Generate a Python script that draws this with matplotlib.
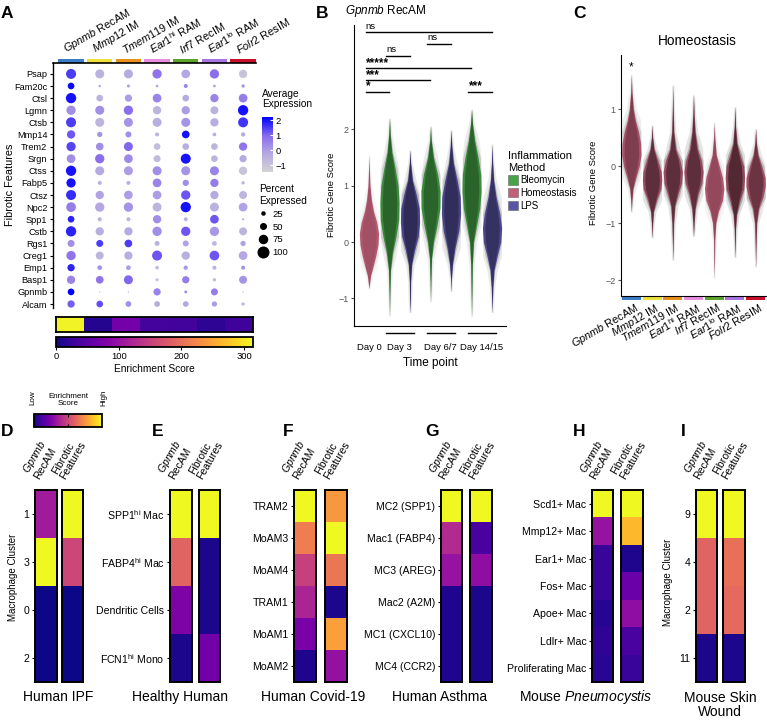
import numpy as np
import matplotlib
matplotlib.use("Agg")
import matplotlib.pyplot as plt
from matplotlib.colors import LinearSegmentedColormap
from matplotlib.patches import Rectangle, Patch
from matplotlib.lines import Line2D
import matplotlib.transforms as mtransforms
import matplotlib.cm as cm

plt.rcParams['font.family'] = ['Liberation Sans', 'DejaVu Sans']
plt.rcParams['mathtext.fontset'] = 'custom'
plt.rcParams['mathtext.rm'] = 'Liberation Sans'
plt.rcParams['mathtext.it'] = 'Liberation Sans:italic'
plt.rcParams['mathtext.bf'] = 'Liberation Sans:bold'
plt.rcParams['axes.unicode_minus'] = True

# ---------------- data ----------------
CLUSTERS = [r"$\mathit{Gpnmb}$ RecAM", r"$\mathit{Mmp12}$ IM", r"$\mathit{Tmem119}$ IM",
            r"$\mathit{Ear1}^{\mathrm{hi}}$ RAM", r"$\mathit{Irf7}$ RecIM",
            r"$\mathit{Ear1}^{\mathrm{lo}}$ RAM", r"$\mathit{Folr2}$ ResIM"]
CLUSTER_COLORS = ["#3d7cc9", "#eee03a", "#e8901a", "#e88ee0", "#5aa52a", "#a875e0", "#c8102a"]

GENES = ["Psap", "Fam20c", "Ctsl", "Lgmn", "Ctsb", "Mmp14", "Trem2", "Srgn", "Ctss", "Fabp5",
         "Ctsz", "Npc2", "Spp1", "Cstb", "Rgs1", "Creg1", "Emp1", "Basp1", "Gpnmb", "Alcam"]

PCT_EXPRESSED = np.array([
    [94, 84, 84, 87, 81, 87, 77],
    [61, 17, 24, 21, 34, 21, 27],
    [97, 61, 67, 81, 61, 77, 81],
    [87, 84, 87, 77, 77, 74, 97],
    [94, 84, 84, 84, 84, 77, 94],
    [77, 47, 54, 34, 71, 31, 37],
    [87, 71, 84, 61, 61, 61, 77],
    [81, 87, 81, 64, 94, 61, 67],
    [97, 84, 84, 84, 84, 84, 77],
    [87, 34, 34, 81, 57, 77, 27],
    [94, 77, 81, 81, 87, 77, 74],
    [91, 87, 87, 84, 97, 84, 81],
    [61, 34, 34, 77, 34, 81, 17],
    [97, 77, 77, 87, 87, 87, 74],
    [64, 64, 71, 44, 54, 41, 47],
    [87, 74, 77, 94, 77, 91, 81],
    [67, 41, 41, 31, 37, 34, 34],
    [77, 71, 84, 24, 67, 27, 74],
    [61, 7, 7, 67, 24, 64, 7],
    [67, 61, 51, 51, 51, 47, 27],
])
AVG_EXPRESSION = np.array([
    [1.5, -0.5, -0.3, 0.8, -0.2, 0.9, -1.0],
    [2.1, 0.0, 0.0, -0.2, 0.5, 0.0, 0.2],
    [2.0, -0.5, 0.0, 0.5, -0.3, 0.5, 0.6],
    [0.3, 0.3, 0.9, -0.6, 0.0, -0.5, 2.0],
    [1.5, -0.6, 0.2, -0.4, 0.2, -0.4, 1.6],
    [1.2, 0.2, 0.3, -0.5, 2.0, -0.4, -0.3],
    [1.4, 0.3, 1.0, -0.8, -0.4, -0.6, 0.8],
    [0.3, 0.9, 0.4, -0.7, 2.0, -0.6, -0.3],
    [2.0, -0.3, 0.0, 0.3, 0.2, 0.5, -1.0],
    [2.0, -0.5, -0.4, 0.5, 0.3, 0.6, -0.5],
    [1.7, -0.1, 0.0, 0.0, 1.2, -0.3, -0.6],
    [0.6, -0.2, 0.2, -0.6, 2.0, -0.5, -0.1],
    [1.8, -0.5, -0.5, 0.3, -0.5, 1.2, -0.6],
    [1.8, -0.4, -0.3, 0.3, 1.2, 0.1, -0.6],
    [0.3, 1.5, 1.5, -0.5, -0.1, -0.6, -0.1],
    [0.8, -0.6, -0.4, 1.2, -0.4, 1.2, -0.2],
    [1.8, 0.2, 0.0, -0.8, 0.1, -0.5, 0.2],
    [0.5, 0.8, 1.0, -0.8, 0.6, -0.7, 0.2],
    [2.2, -0.5, -0.3, 0.5, 0.3, 0.6, -0.6],
    [1.1, 1.3, 0.3, -0.3, -0.2, 0.0, -0.6],
])
ENRICHMENT = [310, 12, 70, 35, 32, 18, 30]
SIZE_LEGEND = [25, 50, 75, 100]

# panel B: violin profiles (score level, half width) per group
B_GROUPS = ["Homeostasis", "Bleomycin", "LPS", "Bleomycin", "LPS", "Bleomycin", "LPS"]
B_DOT_DENSITY = [0.2, 0.5, 0.65, 0.5, 0.6, 0.5, 0.55]
B_PROFILE_Y = [
    [1.54, 1.3, 1.0, 0.75, 0.55, 0.35, 0.15, -0.05, -0.25, -0.45, -0.6, -0.83],
    [2.2, 1.9, 1.6, 1.3, 1.0, 0.7, 0.4, 0.1, -0.2, -0.5, -0.9, -1.31],
    [1.63, 1.4, 1.1, 0.85, 0.6, 0.35, 0.1, -0.15, -0.4, -0.7, -1.0, -1.25],
    [2.06, 1.8, 1.5, 1.2, 0.9, 0.6, 0.3, 0.0, -0.3, -0.7, -1.06],
    [1.99, 1.7, 1.4, 1.1, 0.8, 0.5, 0.2, -0.1, -0.4, -0.65, -0.88],
    [2.36, 2.1, 1.8, 1.5, 1.2, 0.9, 0.6, 0.3, 0.0, -0.4, -0.9, -1.32],
    [1.74, 1.4, 1.1, 0.8, 0.5, 0.25, 0.0, -0.25, -0.5, -0.8, -1.25],
]
B_PROFILE_W = [
    [0, 0.02, 0.05, 0.12, 0.22, 0.38, 0.47, 0.44, 0.33, 0.19, 0.08, 0],
    [0, 0.04, 0.12, 0.28, 0.42, 0.47, 0.45, 0.32, 0.15, 0.05, 0.02, 0],
    [0, 0.03, 0.12, 0.3, 0.45, 0.47, 0.4, 0.22, 0.08, 0.03, 0.02, 0],
    [0, 0.04, 0.15, 0.35, 0.47, 0.46, 0.32, 0.15, 0.05, 0.02, 0],
    [0, 0.04, 0.12, 0.3, 0.45, 0.47, 0.38, 0.2, 0.07, 0.02, 0],
    [0, 0.05, 0.16, 0.32, 0.45, 0.47, 0.4, 0.25, 0.1, 0.04, 0.02, 0],
    [0, 0.03, 0.08, 0.2, 0.38, 0.47, 0.42, 0.25, 0.1, 0.04, 0],
]
B_TIMEPOINTS = ["Day 0", "Day 3", "Day 6/7", "Day 14/15"]
B_COMPARISONS = [(0, 6, "ns"), (3, 4, "ns"), (1, 2, "ns"), (0, 5, "*****"),
                 (0, 3, "***"), (0, 1, "*"), (5, 6, "***")]
B_LEVELS = [0, 1, 2, 3, 4, 5, 5]
METHOD_COLORS = {"Bleomycin": "#47a447", "Homeostasis": "#c2607a", "LPS": "#5b55a8"}

# panel C: homeostasis violins per cluster
C_DOT_DENSITY = [0.45, 0.7, 0.7, 0.7, 0.3, 0.8, 0.6]
C_PROFILE_Y = [
    [1.61, 1.3, 1.0, 0.8, 0.6, 0.4, 0.2, 0.0, -0.2, -0.4, -0.6, -0.81],
    [0.72, 0.5, 0.3, 0.1, -0.1, -0.25, -0.4, -0.6, -0.8, -1.0, -1.26],
    [1.42, 1.0, 0.6, 0.3, 0.1, -0.1, -0.3, -0.5, -0.7, -1.0, -1.3, -1.65],
    [1.25, 0.9, 0.6, 0.3, 0.1, -0.1, -0.3, -0.5, -0.75, -1.0, -1.23],
    [0.77, 0.5, 0.2, 0.0, -0.2, -0.4, -0.6, -0.8, -1.0, -1.3, -1.6, -1.97],
    [1.04, 0.7, 0.4, 0.2, 0.0, -0.2, -0.4, -0.6, -0.85, -1.1, -1.6],
    [0.66, 0.4, 0.2, 0.0, -0.2, -0.35, -0.55, -0.75, -1.0, -1.4, -1.77],
]
C_PROFILE_W = [
    [0, 0.03, 0.1, 0.2, 0.35, 0.45, 0.47, 0.38, 0.22, 0.08, 0.03, 0],
    [0, 0.03, 0.1, 0.28, 0.44, 0.47, 0.42, 0.22, 0.07, 0.03, 0],
    [0, 0.02, 0.05, 0.15, 0.35, 0.47, 0.42, 0.25, 0.1, 0.04, 0.02, 0],
    [0, 0.03, 0.08, 0.2, 0.38, 0.47, 0.4, 0.22, 0.08, 0.03, 0],
    [0, 0.03, 0.1, 0.25, 0.4, 0.47, 0.4, 0.2, 0.08, 0.03, 0.02, 0],
    [0, 0.03, 0.1, 0.25, 0.42, 0.47, 0.42, 0.25, 0.08, 0.03, 0],
    [0, 0.04, 0.12, 0.3, 0.46, 0.47, 0.35, 0.15, 0.05, 0.02, 0],
]
C_SIGNIF = ["*", "", "", "", "", "", ""]

# panels D-I: scaled enrichment (0-1)
IPF_CLUSTERS = ["1", "3", "0", "2"]
IPF_GPNMB = [0.35, 1.0, 0.0, 0.0]
IPF_FIBROTIC = [1.0, 0.5, 0.0, 0.0]
HEALTHY_CLUSTERS = [r"SPP1$^{\mathrm{hi}}$ Mac", r"FABP4$^{\mathrm{hi}}$ Mac", "Dendritic Cells",
                    r"FCN1$^{\mathrm{hi}}$ Mono"]
HEALTHY_GPNMB = [1.0, 0.6, 0.25, 0.02]
HEALTHY_FIBROTIC = [1.0, 0.02, 0.02, 0.22]
COVID_CLUSTERS = ["TRAM2", "MoAM3", "MoAM4", "TRAM1", "MoAM1", "MoAM2"]
COVID_GPNMB = [1.0, 0.68, 0.48, 0.38, 0.24, 0.03]
COVID_FIBROTIC = [0.76, 1.0, 0.66, 0.02, 0.78, 0.31]
ASTHMA_CLUSTERS = ["MC2 (SPP1)", "Mac1 (FABP4)", "MC3 (AREG)", "Mac2 (A2M)", "MC1 (CXCL10)",
                   "MC4 (CCR2)"]
ASTHMA_GPNMB = [1.0, 0.4, 0.32, 0.03, 0.03, 0.03]
ASTHMA_FIBROTIC = [1.0, 0.12, 0.3, 0.02, 0.02, 0.02]
PNEUMO_CLUSTERS = ["Scd1+ Mac", "Mmp12+ Mac", "Ear1+ Mac", "Fos+ Mac", "Apoe+ Mac", "Ldlr+ Mac",
                   "Proliferating Mac"]
PNEUMO_GPNMB = [1.0, 0.32, 0.08, 0.08, 0.04, 0.06, 0.05]
PNEUMO_FIBROTIC = [1.0, 0.85, 0.03, 0.2, 0.3, 0.12, 0.08]
WOUND_CLUSTERS = ["9", "4", "2", "11"]
WOUND_GPNMB = [1.0, 0.6, 0.6, 0.02]
WOUND_FIBROTIC = [1.0, 0.64, 0.62, 0.02]

# ---------------- layout helpers ----------------
W, H = 767, 722
fig = plt.figure(figsize=(W / 100, H / 100), dpi=100)


def px_axes(x0, y0, x1, y1):
    return fig.add_axes([x0 / W, 1 - y1 / H, (x1 - x0) / W, (y1 - y0) / H])


def px_text(x, y, s, **kw):
    return fig.text(x / W, 1 - y / H, s, **kw)


def draw_violin(ax, pos, yv, hw, color, dens):
    # violin body with the jittered cells suggested by darker layers on top
    yv = np.asarray(yv, float)
    hw = np.asarray(hw, float)
    halo = np.minimum(0.46, hw * 2.0 + 0.05)
    ax.fill_betweenx(yv, pos - halo, pos + halo, color="0.5", alpha=0.3 * dens, lw=0)
    ax.fill_betweenx(yv, pos - hw, pos + hw, color=color, lw=0)
    fringe = np.minimum(0.46, hw * 1.35)
    ax.fill_betweenx(yv, pos - fringe, pos + fringe, color="black", alpha=0.3 * dens, lw=0)
    core = hw * 0.75
    ax.fill_betweenx(yv, pos - core, pos + core, color="black", alpha=0.55 * dens, lw=0)


for letter, (x, y) in zip("ABCDEFGHI", [(7, 13), (322, 13), (580, 13), (7, 432), (158, 432),
                                        (288, 432), (432, 432), (579, 432), (683, 432)]):
    px_text(x, y, letter, fontsize=12.5, fontweight="bold", ha="center", va="center")

# ---------------- panel A ----------------
dot_cmap = LinearSegmentedColormap.from_list(
    "dot", [(0, "#d3d3d3"), (0.35, "#b3a6e3"), (0.65, "#8a6ded"), (1, "#0000ff")])
axa = px_axes(53, 63, 256, 308)
gx, gy = np.meshgrid(np.arange(len(CLUSTERS)), np.arange(len(GENES)))
diam = (0.6 + 0.1 * PCT_EXPRESSED) * 0.72
sc = axa.scatter(gx.ravel(), gy.ravel(), s=diam.ravel() ** 2, c=AVG_EXPRESSION.ravel(),
                 cmap=dot_cmap, vmin=-1.45, vmax=2.2, edgecolors="none")
axa.set_xlim(-0.63, 6.45)
axa.set_ylim(19.33, -0.9)
axa.set_yticks(range(len(GENES)))
axa.set_yticklabels(GENES, fontsize=6.6)
axa.set_xticks([])
axa.tick_params(axis="y", length=2.5, pad=1.5)
for side in ["right", "bottom"]:
    axa.spines[side].set_visible(False)
axa.spines["left"].set_linewidth(1.0)
axa.spines["top"].set_linewidth(1.2)
trans = mtransforms.blended_transform_factory(axa.transData, axa.transAxes)
for i, (lab, col) in enumerate(zip(CLUSTERS, CLUSTER_COLORS)):
    axa.add_patch(Rectangle((i - 0.44, 1.0), 0.88, 4 / 245, transform=trans, color=col,
                            clip_on=False, lw=0))
    axa.text(i - 0.1, 1 + 7 / 245, lab, transform=trans, rotation=30, ha="left", va="bottom",
             rotation_mode="anchor", fontsize=7.8)
px_text(10, 185, "Fibrotic Features", rotation=90, ha="center", va="center", fontsize=7.8)

px_text(262, 99, "Average\nExpression", fontsize=7.3, ha="left", va="center", linespacing=1.1)
cax = px_axes(262, 117, 273, 172)
cb = fig.colorbar(sc, cax=cax, ticks=[-1, 0, 1, 2])
cb.outline.set_visible(False)
cax.tick_params(labelsize=6.8, length=2.5, color="white", direction="in", pad=2)

size_handles = [Line2D([], [], marker="o", ls="", color="black",
                       markersize=(0.6 + 0.1 * p) * 0.72) for p in SIZE_LEGEND]
leg = axa.legend(size_handles, [str(p) for p in SIZE_LEGEND], title="Percent\nExpressed",
                 loc="upper left", bbox_to_anchor=(259 / W, 1 - 184 / H),
                 bbox_transform=fig.transFigure, frameon=False, fontsize=6.8,
                 title_fontsize=7.3, alignment="left", handlelength=0.9, handletextpad=0.5,
                 labelspacing=0.42, borderpad=0, borderaxespad=0)

axe = px_axes(56, 317, 253, 332)
im = axe.imshow(np.array(ENRICHMENT)[None, :], cmap="plasma", vmin=0, vmax=314, aspect="auto")
axe.set_xticks([])
axe.set_yticks([])
for s in axe.spines.values():
    s.set_linewidth(1.3)
cax2 = px_axes(56, 337, 253, 347)
cb2 = fig.colorbar(im, cax=cax2, orientation="horizontal", ticks=[0, 100, 200, 300])
cb2.outline.set_linewidth(1.3)
cax2.tick_params(labelsize=6.8, length=2, pad=1.5)
cax2.set_xlabel("Enrichment Score", fontsize=7.3, labelpad=2)

# ---------------- panel B ----------------
axb = px_axes(354, 25, 506, 326)
for i, (yv, hw, grp) in enumerate(zip(B_PROFILE_Y, B_PROFILE_W, B_GROUPS)):
    draw_violin(axb, i, yv, hw, METHOD_COLORS[grp], B_DOT_DENSITY[i])
axb.set_xlim(-0.73, 6.68)
axb.set_ylim(-1.49, 3.85)
axb.set_yticks([-1, 0, 1, 2])
axb.tick_params(axis="y", labelsize=6.5, labelcolor="#555555", length=2, color="#555555", pad=2)
tick_pos = [0, 1.5, 3.5, 5.5]
axb.set_xticks(tick_pos)
axb.set_xticklabels(B_TIMEPOINTS, fontsize=6.8)
axb.tick_params(axis="x", length=0, pad=12)
for side in ["right", "top"]:
    axb.spines[side].set_visible(False)
tb = mtransforms.blended_transform_factory(axb.transData, axb.transAxes)
for c in tick_pos[1:]:
    axb.plot([c - 0.68, c + 0.68], [-0.022, -0.022], transform=tb, color="black", lw=1,
             clip_on=False)
for (a, b, lab), lev in zip(B_COMPARISONS, B_LEVELS):
    yl = 3.72 - 0.21 * lev
    axb.plot([a - 0.15, b - 0.02], [yl, yl], color="black", lw=1)
    if "*" in lab:
        axb.text(a - 0.15, yl - 0.02, lab, fontsize=8.5, ha="left", va="bottom",
                 fontweight="bold")
    else:
        axb.text(a - 0.15, yl + 0.03, lab, fontsize=6.8, ha="left", va="bottom")
axb.set_xlabel("Time point", fontsize=8.5, labelpad=4)
px_text(332, 195, "Fibrotic Gene Score", rotation=90, ha="center", va="center", fontsize=6.8)
px_text(345, 11, r"$\mathit{Gpnmb}$ RecAM", fontsize=8.5, ha="left", va="center")
handles = [Patch(facecolor=METHOD_COLORS[k], edgecolor="0.4", lw=0.4, label=k)
           for k in ["Bleomycin", "Homeostasis", "LPS"]]
axb.legend(handles=handles, title="Inflammation\nMethod", loc="upper left",
           bbox_to_anchor=(508 / W, 1 - 151 / H), bbox_transform=fig.transFigure,
           frameon=False, fontsize=7, title_fontsize=8, alignment="left",
           handlelength=1.0, handleheight=1.1, handletextpad=0.3, labelspacing=0.28,
           borderpad=0, borderaxespad=0)

# ---------------- panel C ----------------
axc = px_axes(621, 55, 767, 296)
for i, (yv, hw) in enumerate(zip(C_PROFILE_Y, C_PROFILE_W)):
    draw_violin(axc, i, yv, hw, METHOD_COLORS["Homeostasis"], C_DOT_DENSITY[i])
    if C_SIGNIF[i]:
        axc.text(i, max(yv) + 0.12, C_SIGNIF[i], ha="center", va="center", fontsize=8.5)
axc.set_xlim(-0.5, 6.55)
axc.set_ylim(-2.28, 1.95)
axc.set_yticks([-2, -1, 0, 1])
axc.tick_params(axis="y", labelsize=6.5, labelcolor="#555555", length=2, color="#555555", pad=2)
axc.set_xticks([])
for side in ["right", "top"]:
    axc.spines[side].set_visible(False)
tc = mtransforms.blended_transform_factory(axc.transData, axc.transAxes)
for i, (lab, col) in enumerate(zip(CLUSTERS, CLUSTER_COLORS)):
    axc.add_patch(Rectangle((i - 0.46, -4 / 241), 0.92, 4 / 241, transform=tc, color=col,
                            clip_on=False, lw=0))
    axc.text(i + 0.12, -0.022, lab, transform=tc, rotation=30, ha="right", va="top",
             rotation_mode="anchor", fontsize=7.8)
px_text(697, 41, "Homeostasis", fontsize=9.8, ha="center", va="center")
px_text(593, 183, "Fibrotic Gene Score", rotation=90, ha="center", va="center", fontsize=6.8)

# ---------------- panels D-I ----------------
heat_panels = [
    (IPF_CLUSTERS, IPF_GPNMB, IPF_FIBROTIC, (35, 57, 62, 83), "Human IPF", 58),
    (HEALTHY_CLUSTERS, HEALTHY_GPNMB, HEALTHY_FIBROTIC, (170, 192, 199, 220), "Healthy Human", 180),
    (COVID_CLUSTERS, COVID_GPNMB, COVID_FIBROTIC, (294, 316, 325, 347), "Human Covid-19", 313),
    (ASTHMA_CLUSTERS, ASTHMA_GPNMB, ASTHMA_FIBROTIC, (441, 462, 470, 492), "Human Asthma", 440),
    (PNEUMO_CLUSTERS, PNEUMO_GPNMB, PNEUMO_FIBROTIC, (592, 613, 621, 643),
     r"Mouse $\mathit{Pneumocystis}$", 586),
    (WOUND_CLUSTERS, WOUND_GPNMB, WOUND_FIBROTIC, (696, 717, 723, 745), "Mouse Skin\nWound", 720),
]
headers = [r"$\mathit{Gpnmb}$" + "\nRecAM", "Fibrotic\nFeatures"]
for labels, g, f, (a0, a1, b0, b1), title, tx in heat_panels:
    for k, (vals, x0, x1) in enumerate([(g, a0, a1), (f, b0, b1)]):
        ax = px_axes(x0, 490, x1, 682)
        ax.imshow(np.array(vals)[:, None], cmap="plasma", vmin=0, vmax=1, aspect="auto",
                  interpolation="nearest")
        ax.set_xticks([])
        for s in ax.spines.values():
            s.set_linewidth(1.4)
        if k == 0:
            ax.set_yticks(range(len(labels)))
            ax.set_yticklabels(labels, fontsize=7.6)
            ax.tick_params(axis="y", length=2.5, width=0.8, pad=1.5)
        else:
            ax.set_yticks([])
        ax.text(0.25, 1 + 9 / 192, headers[k], transform=ax.transAxes, rotation=60, ha="left",
                va="bottom", rotation_mode="anchor", fontsize=7.6, linespacing=1.0)
    px_text(tx, 705 if "\n" in title else 697, title, fontsize=10, ha="center", va="center",
            linespacing=1.05)

px_text(13, 577, "Macrophage Cluster", rotation=90, ha="center", va="center", fontsize=7)
px_text(668, 582, "Macrophage Cluster", rotation=90, ha="center", va="center", fontsize=7)

# plasma legend above D
cax3 = px_axes(34, 414, 102, 427)
cb3 = fig.colorbar(cm.ScalarMappable(cmap="plasma"), cax=cax3, orientation="horizontal",
                   ticks=[0.5])
cb3.outline.set_linewidth(1.3)
cax3.tick_params(length=2, labelbottom=False, top=True, direction="in")
px_text(68, 400, "Enrichment\nScore", fontsize=5.8, ha="center", va="center", linespacing=1.1)
px_text(33, 398, "Low", fontsize=5.8, rotation=90, ha="center", va="center")
px_text(104, 398, "High", fontsize=5.8, rotation=90, ha="center", va="center")

fig.savefig("out.png", dpi=100)
